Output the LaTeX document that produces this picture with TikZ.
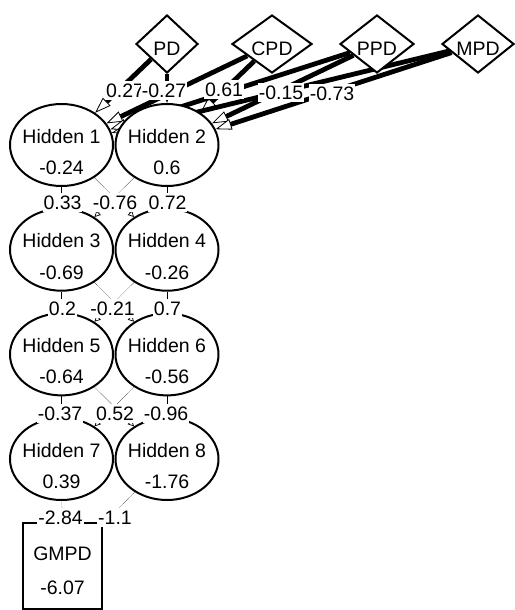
\documentclass[tikz,border=0pt]{standalone}
\usepackage{fontspec}
\setmainfont{Liberation Sans}
\usetikzlibrary{shapes.geometric,arrows.meta}
\pgfdeclarelayer{bg}
\pgfdeclarelayer{fg}
\pgfsetlayers{bg,main,fg}
\newcommand\txtat[2]{\makebox[0pt]{\raisebox{#1}[0pt][0pt]{#2}}}
\begin{document}
\begin{tikzpicture}[x=1pt,y=-1pt,
  every node/.style={font=\fontsize{19.5}{23}\selectfont},
  inp/.style={diamond, draw, line width=2pt, fill=white, inner sep=0pt, minimum height=58pt},
  hid/.style={ellipse, draw, line width=2pt, fill=white, inner sep=0pt, minimum width=103pt, minimum height=82pt},
  outbox/.style={rectangle, draw, line width=2pt, fill=white, inner sep=0pt, minimum width=79pt, minimum height=86pt},
  wlab/.style={fill=white, inner xsep=1pt, inner ysep=2.5pt, text height=14pt, text depth=0pt},
  inedge/.style={line width=4.8pt, -{Triangle[length=16pt,width=11pt,fill=white,line width=0.8pt 0 0]}},
  hidedge/.style={line width=0.1pt, -{Triangle[length=6pt,width=6pt,fill=white,line width=0.7pt 0 0]}},
]
\useasboundingbox (0,0) rectangle (514,610);
% input nodes
\node[inp, minimum width=62pt] (pd)  at (167,44) {\txtat{-11.5pt}{PD}};
\node[inp, minimum width=80pt] (cpd) at (272,44) {\txtat{-11.5pt}{CPD}};
\node[inp, minimum width=74pt] (ppd) at (377,44) {\txtat{-11.5pt}{PPD}};
\node[inp, minimum width=72pt] (mpd) at (478,44) {\txtat{-11.5pt}{MPD}};
% hidden nodes
\node[hid] (h1) at (61.5,145)   {\txtat{2pt}{Hidden 1}\txtat{-29.4pt}{-0.24}};
\node[hid] (h2) at (167,145)    {\txtat{2pt}{Hidden 2}\txtat{-29.4pt}{0.6}};
\node[hid] (h3) at (61.5,249.7) {\txtat{2pt}{Hidden 3}\txtat{-29.4pt}{-0.69}};
\node[hid] (h4) at (167,249.7)  {\txtat{2pt}{Hidden 4}\txtat{-29.4pt}{-0.26}};
\node[hid] (h5) at (61.5,354.4) {\txtat{2pt}{Hidden 5}\txtat{-29.4pt}{-0.64}};
\node[hid] (h6) at (167,354.4)  {\txtat{2pt}{Hidden 6}\txtat{-29.4pt}{-0.56}};
\node[hid] (h7) at (61.5,459)   {\txtat{2pt}{Hidden 7}\txtat{-29.4pt}{0.39}};
\node[hid] (h8) at (167,459)    {\txtat{2pt}{Hidden 8}\txtat{-29.4pt}{-1.76}};
% output node
\node[outbox] (gmpd) at (62.5,566) {\txtat{6pt}{GMPD}\txtat{-28pt}{-6.07}};
% connectors
\begin{pgfonlayer}{bg}
\foreach \s in {pd,cpd,ppd,mpd}{
  \draw[inedge] (\s) -- (h1);
  \draw[inedge] (\s) -- (h2);
}
\foreach \a/\b in {h1/h3,h1/h4,h2/h3,h2/h4,h3/h5,h3/h6,h4/h5,h4/h6,h5/h7,h5/h8,h6/h7,h6/h8,h7/gmpd,h8/gmpd}{
  \draw[hidedge] (\a) -- (\b);
}
\end{pgfonlayer}
% weight labels
\begin{pgfonlayer}{fg}
\node[wlab] (w1) at (125,90.5) {0.27};
\node[wlab] (w2) at (164,90.5) {-0.27};
\node[wlab] (w3) at (224,89.5) {0.61};
\node[wlab] (w4) at (281,92.5) {-0.15};
\node[wlab] (w5) at (332,93.5) {-0.73};
\node[wlab] (w6) at (62.5,202.5) {0.33};
\node[wlab] (w7) at (115,202) {-0.76};
\node[wlab] (w8) at (167.5,202) {0.72};
\node[wlab] (w9) at (62.5,308) {0.2};
\node[wlab] (w10) at (112.5,308.5) {-0.21};
\node[wlab] (w11) at (167.5,308) {0.7};
\node[wlab] (w12) at (60,413) {-0.37};
\node[wlab] (w13) at (115,413) {0.52};
\node[wlab] (w14) at (166,413) {-0.96};
\node[wlab] (w15) at (60.5,517) {-2.84};
\node[wlab] (w16) at (115,517) {-1.1};
\end{pgfonlayer}
\end{tikzpicture}
\end{document}
